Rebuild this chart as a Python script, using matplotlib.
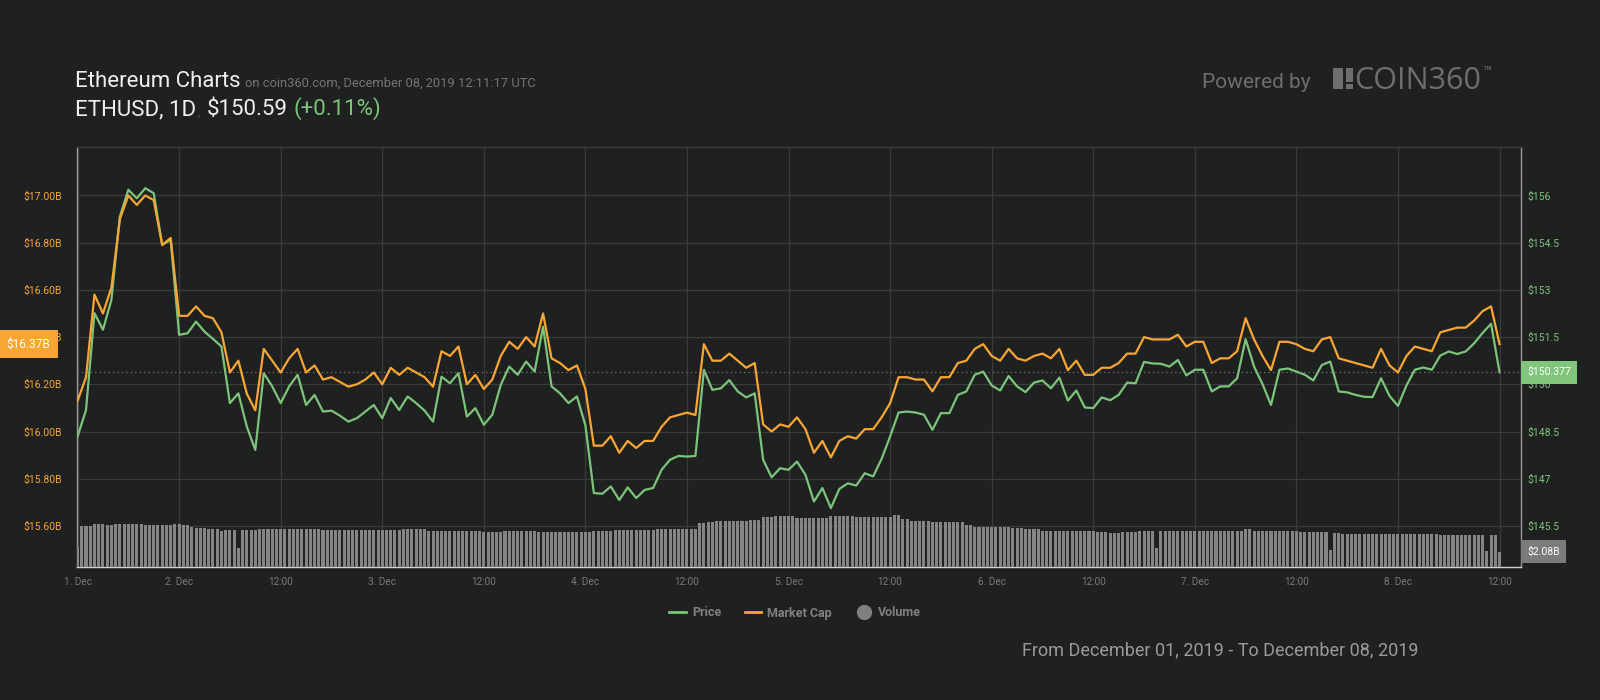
import numpy as np
import matplotlib
matplotlib.use("Agg")
import matplotlib.pyplot as plt
from matplotlib.lines import Line2D
from matplotlib.patches import Rectangle

plt.rcParams['font.family'] = ['Roboto', 'DejaVu Sans']

# hourly samples, hours counted from 1 Dec 2019 00:00 UTC
hours = np.arange(12, 181)

price = [
    148.34, 149.18, 152.26, 151.73, 152.68, 155.33, 156.18, 155.91, 156.23, 156.07, 154.43, 154.59,
    151.57, 151.62, 151.99, 151.67, 151.44, 151.20, 149.40, 149.71, 148.65, 147.91, 150.35, 149.93,
    149.40, 149.93, 150.30, 149.34, 149.66, 149.13, 149.16, 149.00, 148.81, 148.92, 149.13, 149.34,
    148.92, 149.56, 149.18, 149.61, 149.40, 149.16, 148.81, 150.24, 150.03, 150.35, 148.97, 149.24,
    148.71, 149.03, 149.98, 150.56, 150.30, 150.72, 150.40, 151.83, 149.93, 149.71, 149.40, 149.61,
    148.69, 146.54, 146.52, 146.75, 146.32, 146.72, 146.38, 146.64, 146.70, 147.28, 147.60, 147.72,
    147.70, 147.72, 150.46, 149.82, 149.87, 150.13, 149.77, 149.58, 149.71, 147.60, 147.04, 147.33,
    147.28, 147.54, 147.12, 146.27, 146.70, 146.06, 146.67, 146.85, 146.78, 147.17, 147.07, 147.63,
    148.34, 149.10, 149.13, 149.10, 149.03, 148.55, 149.08, 149.08, 149.66, 149.77, 150.30, 150.40,
    149.96, 149.80, 150.26, 149.93, 149.75, 150.05, 150.12, 149.87, 150.21, 149.48, 149.80, 149.26,
    149.24, 149.58, 149.49, 149.66, 150.05, 150.03, 150.71, 150.66, 150.65, 150.56, 150.77, 150.28,
    150.46, 150.46, 149.77, 149.93, 149.93, 150.19, 151.43, 150.56, 150.00, 149.34, 150.46, 150.50,
    150.40, 150.30, 150.12, 150.61, 150.72, 149.77, 149.74, 149.66, 149.60, 149.59, 150.19, 149.63,
    149.31, 149.96, 150.46, 150.53, 150.46, 150.91, 151.04, 150.96, 151.04, 151.30, 151.63, 151.92,
    150.38,
]

market_cap = [
    16.13, 16.23, 16.58, 16.50, 16.61, 16.90, 17.00, 16.96, 17.00, 16.98, 16.79, 16.82,
    16.49, 16.49, 16.53, 16.49, 16.48, 16.42, 16.25, 16.30, 16.16, 16.09, 16.35, 16.30,
    16.25, 16.31, 16.35, 16.25, 16.28, 16.22, 16.23, 16.21, 16.19, 16.20, 16.22, 16.25,
    16.20, 16.27, 16.24, 16.27, 16.25, 16.23, 16.19, 16.34, 16.32, 16.36, 16.20, 16.24,
    16.18, 16.22, 16.32, 16.38, 16.35, 16.40, 16.36, 16.50, 16.31, 16.29, 16.26, 16.28,
    16.18, 15.94, 15.94, 15.98, 15.91, 15.96, 15.93, 15.96, 15.96, 16.02, 16.06, 16.07,
    16.08, 16.07, 16.37, 16.30, 16.30, 16.33, 16.30, 16.27, 16.29, 16.03, 16.00, 16.03,
    16.02, 16.06, 16.01, 15.91, 15.96, 15.89, 15.96, 15.98, 15.97, 16.01, 16.01, 16.06,
    16.12, 16.23, 16.23, 16.22, 16.22, 16.17, 16.23, 16.23, 16.29, 16.30, 16.35, 16.37,
    16.32, 16.30, 16.35, 16.31, 16.30, 16.32, 16.33, 16.31, 16.35, 16.26, 16.30, 16.24,
    16.24, 16.27, 16.27, 16.29, 16.33, 16.33, 16.40, 16.39, 16.39, 16.39, 16.41, 16.36,
    16.38, 16.38, 16.29, 16.31, 16.31, 16.34, 16.48, 16.39, 16.32, 16.26, 16.38, 16.38,
    16.37, 16.35, 16.34, 16.39, 16.40, 16.31, 16.30, 16.29, 16.28, 16.27, 16.35, 16.28,
    16.25, 16.32, 16.36, 16.35, 16.34, 16.42, 16.43, 16.44, 16.44, 16.47, 16.51, 16.53,
    16.37,
]

# 24h volume in $B, one bar every half hour
vol_hours = np.arange(12, 180.5, 0.5)
volume = [
    2.76, 5.57, 5.57, 5.57, 5.84, 5.84, 5.84, 5.71, 5.71, 5.84, 5.84, 5.84, 5.84, 5.84, 5.84, 5.84, 5.71, 5.71, 5.71, 5.71, 5.71, 5.71, 5.71, 5.84,
    5.84, 5.71, 5.71, 5.48, 5.35, 5.35, 5.25, 5.12, 5.12, 5.12, 4.94, 5.03, 5.03, 5.03, 2.54, 5.03, 5.03, 5.03, 5.03, 5.16, 5.16, 5.16, 5.16, 5.16,
    5.16, 5.16, 5.16, 5.16, 5.16, 5.16, 5.16, 5.16, 5.16, 5.16, 5.03, 5.03, 5.03, 5.03, 5.03, 5.03, 5.03, 5.03, 5.03, 5.03, 5.03, 5.03, 5.03, 5.03,
    5.03, 5.03, 5.03, 5.03, 5.03, 5.21, 5.21, 5.21, 5.21, 5.21, 5.21, 4.94, 4.94, 4.94, 4.94, 4.94, 4.94, 4.94, 4.94, 4.94, 4.94, 4.94, 4.94, 4.94,
    4.80, 4.80, 4.80, 4.80, 4.80, 4.94, 4.94, 4.94, 4.94, 4.94, 4.94, 4.94, 4.94, 4.80, 4.80, 4.80, 4.80, 4.80, 4.80, 4.80, 4.80, 4.80, 4.80, 4.80,
    4.80, 4.80, 4.94, 4.94, 4.94, 4.94, 4.94, 5.03, 5.03, 5.03, 5.03, 5.03, 5.03, 5.03, 5.03, 5.03, 5.03, 5.21, 5.21, 5.16, 5.16, 5.16, 5.16, 5.16,
    5.16, 5.16, 5.16, 5.93, 5.93, 6.12, 6.12, 6.30, 6.30, 6.30, 6.30, 6.30, 6.30, 6.30, 6.30, 6.43, 6.43, 6.43, 6.75, 6.75, 6.75, 6.93, 6.93, 6.93,
    6.93, 6.93, 6.70, 6.70, 6.70, 6.70, 6.70, 6.70, 6.70, 6.70, 6.93, 6.93, 6.93, 6.93, 6.93, 6.93, 6.80, 6.80, 6.80, 6.80, 6.80, 6.80, 6.80, 6.80,
    6.80, 7.07, 7.07, 6.48, 6.48, 6.25, 6.25, 6.25, 6.25, 6.25, 6.07, 6.07, 6.07, 6.07, 6.07, 6.07, 6.07, 6.07, 5.71, 5.71, 5.48, 5.48, 5.48, 5.48,
    5.48, 5.48, 5.48, 5.48, 5.48, 5.35, 5.35, 5.35, 5.16, 5.16, 5.16, 5.16, 4.94, 4.94, 4.94, 4.94, 4.94, 4.94, 4.94, 4.94, 4.94, 4.94, 4.94, 4.94,
    4.94, 4.80, 4.80, 4.80, 4.67, 4.67, 4.67, 4.80, 4.80, 4.80, 4.80, 4.94, 4.94, 4.94, 4.94, 2.54, 4.94, 4.94, 4.94, 4.94, 4.94, 4.94, 4.94, 4.94,
    4.94, 4.94, 4.94, 4.94, 4.94, 4.94, 4.94, 4.94, 4.94, 4.94, 4.94, 4.94, 5.12, 5.12, 4.94, 4.94, 4.94, 4.94, 4.94, 4.94, 4.94, 4.94, 4.94, 4.94,
    4.94, 4.80, 4.80, 4.80, 4.80, 4.80, 4.80, 4.80, 2.31, 4.67, 4.67, 4.44, 4.44, 4.44, 4.44, 4.44, 4.44, 4.44, 4.44, 4.44, 4.44, 4.44, 4.44, 4.44,
    4.44, 4.44, 4.44, 4.44, 4.44, 4.44, 4.44, 4.44, 4.44, 4.44, 4.35, 4.35, 4.35, 4.35, 4.35, 4.35, 4.35, 4.35, 4.35, 4.35, 4.35, 2.22, 4.35, 4.35,
    2.08,
]

x_ticks = [12, 24, 36, 48, 60, 72, 84, 96, 108, 120, 132, 144, 156, 168, 180]
x_labels = ["1. Dec", "2. Dec", "12:00", "3. Dec", "12:00", "4. Dec", "12:00", "5. Dec",
            "12:00", "6. Dec", "12:00", "7. Dec", "12:00", "8. Dec", "12:00"]
cap_ticks = [15.6, 15.8, 16.0, 16.2, 16.4, 16.6, 16.8, 17.0]
price_ticks = [145.5, 147, 148.5, 150, 151.5, 153, 154.5, 156]
last_price = 150.377

BG = '#1f2020'
GRID = '#3a3b3b'
ORANGE = '#f7a634'
GREEN = '#7dc47b'
GREY_TXT = '#7a7a7a'

W, H = 1600, 700
fig = plt.figure(figsize=(16, 7), dpi=100, facecolor=BG)
rect = [76.7 / W, 1 - 567 / H, (1520.7 - 76.7) / W, (567 - 147.3) / H]
xlim = (11.9, 182.5)

# background + grid
axbg = fig.add_axes(rect, facecolor=BG, zorder=0)
axbg.set_xlim(*xlim)
axbg.set_ylim(15.426, 17.204)
axbg.set_xticks(x_ticks)
axbg.set_yticks(cap_ticks)
axbg.grid(True, color=GRID, lw=0.9)
axbg.tick_params(length=0, labelleft=False, labelbottom=False)
for side, col in [('left', '#9a9a9a'), ('right', '#9a9a9a'), ('bottom', '#d0d0d0'), ('top', GRID)]:
    axbg.spines[side].set_color(col)
    axbg.spines[side].set_linewidth(1.0)

# volume bars
axv = fig.add_axes(rect, zorder=1)
axv.patch.set_visible(False)
axv.bar(vol_hours, volume, width=0.36, color='#858585', align='center')
axv.set_xlim(*xlim)
axv.set_ylim(0, 57.1)
axv.axis('off')

# price (right axis)
axp = fig.add_axes(rect, zorder=2)
axp.patch.set_visible(False)
axp.plot(hours, price, color=GREEN, lw=1.6)
axp.axhline(last_price, color='#8a8a8a', lw=0.8, ls=(0, (1, 3)))
axp.set_xlim(*xlim)
axp.set_ylim(144.19, 157.53)
axp.set_yticks(price_ticks)
axp.set_yticklabels([f"${v:g}" for v in price_ticks])
axp.yaxis.tick_right()
axp.tick_params(axis='y', length=0, pad=4.5, labelsize=7.5, labelcolor=GREEN)
axp.tick_params(axis='x', bottom=False, labelbottom=False)
for s in axp.spines.values():
    s.set_visible(False)

# market cap (left axis)
axm = fig.add_axes(rect, zorder=3)
axm.patch.set_visible(False)
axm.plot(hours, market_cap, color=ORANGE, lw=1.6)
axm.set_xlim(*xlim)
axm.set_ylim(15.426, 17.204)
axm.set_yticks(cap_ticks)
axm.set_yticklabels([f"${v:.2f}B" for v in cap_ticks])
axm.set_xticks(x_ticks)
axm.set_xticklabels(x_labels)
axm.tick_params(axis='y', length=0, pad=10.5, labelsize=7.5, labelcolor=ORANGE)
axm.tick_params(axis='x', length=0, pad=7.5, labelsize=7.2, labelcolor=GREY_TXT)
for s in axm.spines.values():
    s.set_visible(False)

# value flags on the axes
axm.annotate(f"${market_cap[-1]:.2f}B", xy=(28.5, market_cap[-1]), xycoords=('figure pixels', 'data'),
             ha='center', va='center', color='white', fontsize=8.5, zorder=10,
             bbox=dict(boxstyle='square,pad=0.62', lw=0, fc=ORANGE), annotation_clip=False)
flag = dict(boxstyle='square,pad=0.62', lw=0)
axp.annotate(f"${last_price:.3f}", xy=(1527, last_price), xycoords=('figure pixels', 'data'),
             ha='left', va='center', color='white', fontsize=7.5,
             bbox=dict(flag, fc='#7fc57c'), annotation_clip=False)
axv.annotate(f"${volume[-1]:.2f}B", xy=(1527, volume[-1]), xycoords=('figure pixels', 'data'),
             ha='left', va='center', color='white', fontsize=7.5,
             bbox=dict(flag, fc='#7b7b7b'), annotation_clip=False)

# header text, drawn run by run
renderer = fig.canvas.get_renderer()


def text_runs(x, y, parts, family=None):
    for txt, size, col, gap, va in parts:
        x += gap
        kw = {'family': family} if family else {}
        t = fig.text(x / W, 1 - y / H, txt, fontsize=size, color=col, va=va, **kw)
        x = t.get_window_extent(renderer).x1
    return x


text_runs(75, 87, [("Ethereum Charts", 16, '#efefef', 0, 'baseline'),
                   ("on coin360.com, December 08, 2019 12:11:17 UTC", 9.3, '#757575', 4, 'baseline')])
text_runs(75, 115, [("ETHUSD, 1D", 16, '#efefef', 0, 'baseline'),
                    (",", 8, '#5a5a5a', 2, 'baseline'),
                    ("$150.59", 16, '#efefef', 6, 'baseline'),
                    ("(+0.11%)", 16, GREEN, 6, 'baseline')])

fig.text(1201.7 / W, 1 - 88.3 / H, "Powered by", fontsize=15, color='#6e6e6e', va='baseline')
logo_col = '#6e6e6e'
for x0, y0, x1, y1 in [(1332.7, 68.3, 1343.3, 89), (1346, 68.3, 1352.5, 81.5), (1346, 84, 1352.5, 89)]:
    fig.add_artist(Rectangle((x0 / W, 1 - y1 / H), (x1 - x0) / W, (y1 - y0) / H,
                             transform=fig.transFigure, color=logo_col, lw=0))
logo_end = text_runs(1354, 89, [("COIN360", 22, logo_col, 0, 'baseline')], family=['Open Sans', 'DejaVu Sans'])
fig.text((logo_end + 1) / W, 1 - 66 / H, "™", fontsize=11, color=logo_col, va='top')

# legend
handles = [Line2D([], [], color=GREEN, lw=2),
           Line2D([], [], color=ORANGE, lw=2),
           Line2D([], [], color='#808080', lw=0, marker='o', markersize=10)]
leg = fig.legend(handles, ["Price", "Market Cap", "Volume"], loc='center', bbox_to_anchor=(0.497, 1 - 613 / H),
                 ncol=3, frameon=False, handlelength=1.3, handletextpad=0.5, columnspacing=1.9,
                 prop={'weight': 'bold', 'size': 9})
for t in leg.get_texts():
    t.set_color('#808080')

fig.text(1418 / W, 1 - 650 / H, "From December 01, 2019 - To December 08, 2019", fontsize=13,
         color='#9a9a9a', ha='right', va='center')

fig.savefig("out.png", dpi=100, facecolor=BG)
